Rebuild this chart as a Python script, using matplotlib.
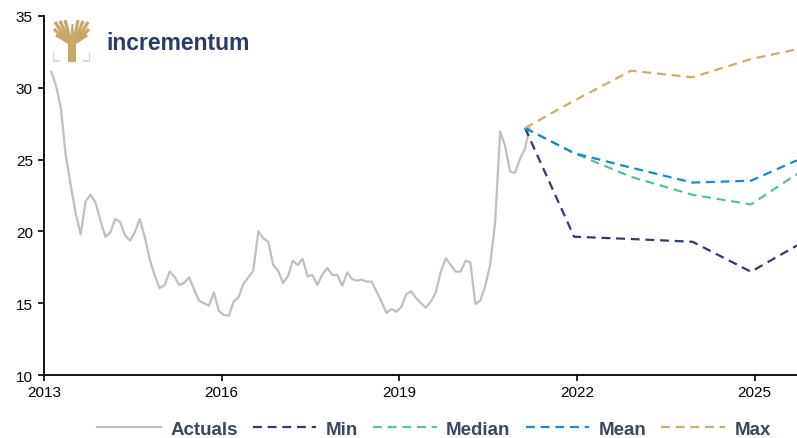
import pandas as pd
import matplotlib
matplotlib.use("Agg")
import matplotlib.pyplot as plt
from matplotlib.patches import Polygon, Rectangle

plt.rcParams["font.family"] = ["Liberation Sans", "DejaVu Sans"]

# monthly actuals, Jan 2013 - Feb 2021
actual_start = "2013-01-15"
actuals = [31.1, 30.2, 28.6, 25.3, 23.2, 21.3, 19.8, 22.1, 22.55, 22.0, 20.75, 19.63,
           19.94, 20.86, 20.68, 19.75, 19.35, 19.94, 20.86, 19.59, 18.08, 16.92, 16.04, 16.27,
           17.2, 16.87, 16.27, 16.41, 16.8, 15.99, 15.17, 15.0, 14.83, 15.76, 14.48, 14.18,
           14.13, 15.1, 15.41, 16.34, 16.8, 17.26, 20.0, 19.52, 19.28, 17.66, 17.26, 16.4,
           16.9, 17.96, 17.66, 18.08, 16.87, 16.96, 16.27, 17.03, 17.45, 16.96, 16.96, 16.22,
           17.15, 16.69, 16.57, 16.64, 16.5, 16.5, 15.8, 15.06, 14.32, 14.6, 14.4, 14.76,
           15.64, 15.83, 15.36, 15.01, 14.69, 15.1, 15.76, 17.2, 18.13, 17.66, 17.2, 17.2,
           17.96, 17.85, 14.95, 15.17, 16.22, 17.66, 20.63, 26.94, 25.97, 24.18, 24.07, 25.04,
           25.74, 27.2]

fc_dates = ["2021-02-15", "2021-12-15", "2022-12-01", "2023-12-15", "2024-12-10", "2025-09-20"]
fc_min = [27.2, 19.63, 19.47, 19.28, 17.19, 19.02]
fc_median = [27.2, 25.45, 23.8, 22.55, 21.88, 24.0]
fc_mean = [27.2, 25.45, 24.44, 23.4, 23.53, 24.95]
fc_max = [27.2, 29.1, 31.19, 30.73, 32.0, 32.68]

tick_years = [2013, 2016, 2019, 2022, 2025]

act_x = pd.date_range(actual_start, periods=len(actuals), freq="MS") + pd.Timedelta(days=14)
fc_x = pd.to_datetime(fc_dates)

fig = plt.figure(figsize=(7.97, 4.39), dpi=100)
ax = fig.add_axes([0.0552, 0.1435, 0.9448, 0.8178])

dash = (0, (4, 2.6))
ax.plot(act_x, actuals, color="#BFBFBF", lw=1.6, label="Actuals")
ax.plot(fc_x, fc_min, color="#2E3D6B", lw=1.6, ls=dash, label="Min")
ax.plot(fc_x, fc_median, color="#5DBE9C", lw=1.6, ls=dash, label="Median")
ax.plot(fc_x, fc_mean, color="#1B8BC0", lw=1.6, ls=dash, label="Mean")
ax.plot(fc_x, fc_max, color="#C9AE6C", lw=1.6, ls=dash, label="Max")

ax.set_ylim(10, 35)
ax.set_yticks([10, 15, 20, 25, 30, 35])
ax.set_xlim(pd.Timestamp("2013-01-01"), pd.Timestamp("2025-09-20"))
ax.set_xticks([pd.Timestamp(f"{y}-01-01") for y in tick_years])
ax.set_xticklabels([str(y) for y in tick_years])
ax.tick_params(labelsize=11, length=4, width=1.2, colors="black")
ax.tick_params(axis="x", pad=3)
ax.tick_params(axis="y", pad=4)
for s in ["top", "right"]:
    ax.spines[s].set_visible(False)
for s in ["left", "bottom"]:
    ax.spines[s].set_linewidth(1.3)

leg = fig.legend(loc="center", bbox_to_anchor=(0.5445, 1 - 430 / 439), ncol=5,
                 frameon=False, handlelength=3.4, handletextpad=0.5, columnspacing=0.8,
                 prop={"size": 13.5, "weight": "bold"})
for t in leg.get_texts():
    t.set_color("#3A4A5C")

# logo
lg = fig.add_axes([53 / 797, 1 - 63 / 439, 37 / 797, 42 / 439])
lg.set_xlim(0, 37)
lg.set_ylim(42, 0)
lg.axis("off")
gold = "#C6A968"
lg.add_patch(Polygon([[15, 42], [15, 24], [10, 18], [12, 17], [17, 22], [18.5, 4],
                      [20.5, 4], [21, 22], [26, 17], [28, 18], [23, 24], [23, 42]],
                     closed=True, color=gold, lw=0))
for x0, y0 in [(2, 2), (7, 1), (12, 0), (25, 0), (30, 1), (35, 2), (1, 9), (36, 9), (3, 15), (34, 15)]:
    xe = 19.5 + (x0 - 19.5) * 0.25
    lg.plot([x0, xe], [y0, 22], color=gold, lw=2.4, solid_capstyle="butt")
lg.add_patch(Rectangle((0, 33), 37, 9, color="white", lw=0, zorder=1))
lg.add_patch(Polygon([[15, 33], [23, 33], [23, 42], [15, 42]], color=gold, lw=0, zorder=2))
lg.plot([0, 0, 6], [33, 41, 41], color="#D9D9D9", lw=1.6, zorder=2)
lg.plot([31, 37, 37], [41, 41, 33], color="#D9D9D9", lw=1.6, zorder=2)
fig.text(106 / 797, 1 - 44 / 439, "incrementum", color="#2B3B66", fontsize=16.5,
         fontweight="bold", va="center", ha="left")

fig.savefig("out.png", dpi=100)
